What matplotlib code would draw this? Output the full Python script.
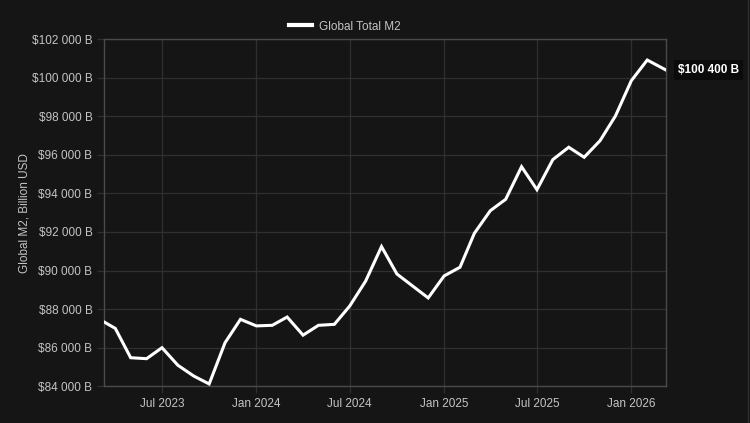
import matplotlib
matplotlib.use("Agg")
import matplotlib.pyplot as plt
import matplotlib.dates as mdates
import matplotlib.ticker as mticker
import pandas as pd

# monthly points, first and last are partial-month readings
dates = pd.to_datetime(
    ["2023-03-09"]
    + [f"{y}-{m:02d}-01" for y, m in
       [(2023, m) for m in range(4, 13)]
       + [(2024, m) for m in range(1, 13)]
       + [(2025, m) for m in range(1, 13)]
       + [(2026, m) for m in range(1, 3)]]
    + ["2026-03-09"]
)
m2_values = [
    87350, 87000, 85480, 85430, 86000, 85090, 84530, 84120, 86260, 87470,
    87130, 87160, 87590, 86650, 87160, 87210, 88160, 89450, 91240, 89820, 89190, 88580,
    89720, 90170, 91930, 93100, 93690, 95380, 94190, 95750, 96390, 95870, 96730, 98010,
    99840, 100910, 100400,
]
series_name = "Global Total M2"
y_label = "Global M2, Billion USD"
last_label = "$100 400 B"

BG = "#151515"
GRID = "#303030"
SPINE = "#4a4a4a"
TXT = "#c4c4c4"

plt.rcParams["font.family"] = ["Liberation Sans", "DejaVu Sans"]

fig = plt.figure(figsize=(7.5, 4.23), dpi=100, facecolor=BG)
ax = fig.add_axes([0.138, 0.0868, 0.7496, 0.821])
ax.set_facecolor(BG)

ax.plot(dates, m2_values, color="white", linewidth=2.2, solid_joinstyle="miter",
        label=series_name, zorder=3)

ax.set_xlim(pd.Timestamp("2023-03-09"), pd.Timestamp("2026-03-09"))
ax.set_ylim(84000, 102000)
ax.yaxis.set_major_locator(mticker.MultipleLocator(2000))
ax.yaxis.set_major_formatter(
    mticker.FuncFormatter(lambda v, p: "$" + f"{int(v):,}".replace(",", " ") + " B"))
ax.xaxis.set_major_locator(mdates.MonthLocator(bymonth=[1, 7]))
ax.xaxis.set_major_formatter(mdates.DateFormatter("%b %Y"))

ax.grid(True, color=GRID, linewidth=0.9)
ax.tick_params(colors=TXT, labelsize=8.5, length=5, width=0.9, color=GRID, pad=3)
ax.tick_params(axis="x", pad=3.5)
for s in ax.spines.values():
    s.set_color(SPINE)
    s.set_linewidth(1.0)

ax.set_ylabel(y_label, color=TXT, fontsize=8.5, labelpad=1)

leg = ax.legend(loc="lower left", bbox_to_anchor=(0.322, 1.005), frameon=False,
                fontsize=8.5, handlelength=1.9, handletextpad=0.6, borderaxespad=0)
for t in leg.get_texts():
    t.set_color(TXT)
for h in leg.get_lines():
    h.set_linewidth(3)

ax.annotate(last_label, xy=(dates[-1], m2_values[-1]), xytext=(9, 0),
            textcoords="offset points", va="center", ha="left",
            color="white", fontsize=8.5, fontweight="bold", annotation_clip=False,
            bbox=dict(boxstyle="square,pad=0.35", fc="#0b0b0b", ec="none"))

# thin container edge on the right
fig.add_artist(plt.Line2D([0.9975, 0.9975], [0, 1], transform=fig.transFigure,
                          color="#2e2e2e", linewidth=1))

fig.savefig("out.png", dpi=100, facecolor=BG)
